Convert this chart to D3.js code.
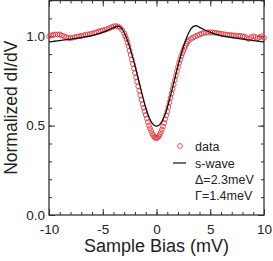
<!doctype html>
<html>
  <head>
    <meta charset="utf-8">
    <title>dI/dV</title>
    <script src="https://d3js.org/d3.v7.min.js"></script>
    <style type="text/css">
      body { margin: 0; background-color: #ffffff; }
      text { font-family: "Liberation Sans", Arial, sans-serif; fill: #222; }
    </style>
  </head>
  <body>
    <script>
      var biasData = [
        -10, -9.8, -9.6, -9.4, -9.2, -9, -8.8, -8.6, -8.4, -8.2, -8, -7.8, -7.6, -7.4, -7.2, -7,
        -6.8, -6.6, -6.4, -6.2, -6, -5.8, -5.6, -5.4, -5.2, -5, -4.8, -4.6, -4.4, -4.2, -4,
        -3.8, -3.6, -3.4, -3.2,
        -3, -2.9, -2.8, -2.7, -2.6, -2.5, -2.4, -2.3, -2.2, -2.1, -2, -1.9, -1.8, -1.7, -1.6,
        -1.5, -1.4, -1.3, -1.2, -1.1, -1, -0.9, -0.8, -0.7, -0.6, -0.5, -0.4, -0.3, -0.2, -0.1,
        0, 0.1, 0.2, 0.3, 0.4, 0.5, 0.6, 0.7, 0.8, 0.9, 1, 1.1, 1.2, 1.3, 1.4, 1.5, 1.6, 1.7,
        1.8, 1.9, 2, 2.1, 2.2, 2.3, 2.4, 2.5, 2.6, 2.7, 2.8, 2.9, 3,
        3.2, 3.4, 3.6, 3.8, 4, 4.2, 4.4, 4.6, 4.8, 5, 5.2, 5.4, 5.6, 5.8, 6, 6.2, 6.4, 6.6,
        6.8, 7, 7.2, 7.4, 7.6, 7.8, 8, 8.2, 8.4, 8.6, 8.8, 9, 9.2, 9.4, 9.6, 9.8, 10
      ];
      var didvData = [
        1.0, 1.005, 1.008, 1.01, 1.01, 1.01, 1.005, 1.0, 0.995, 0.99, 0.99, 0.992, 0.995, 0.998, 1.0, 1.002,
        1.005, 1.008, 1.01, 1.012, 1.015, 1.018, 1.022, 1.026, 1.03, 1.033, 1.036, 1.04, 1.045, 1.05, 1.055,
        1.057, 1.055, 1.048, 1.035,
        1.015, 1.0, 0.985, 0.965, 0.945, 0.92, 0.895, 0.87, 0.845, 0.82, 0.795, 0.77, 0.745, 0.72, 0.695,
        0.67, 0.645, 0.62, 0.6, 0.58, 0.56, 0.54, 0.52, 0.5, 0.485, 0.47, 0.455, 0.445, 0.437, 0.432,
        0.43, 0.433, 0.44, 0.45, 0.463, 0.478, 0.495, 0.515, 0.535, 0.558, 0.58, 0.605, 0.63, 0.655, 0.68, 0.705, 0.73, 0.755,
        0.78, 0.805, 0.828, 0.85, 0.87, 0.888, 0.905, 0.92, 0.935, 0.948, 0.96, 0.97, 0.978,
        0.986, 0.993, 0.999, 1.005, 1.01, 1.015, 1.018, 1.02, 1.022, 1.022, 1.021, 1.02, 1.018, 1.016, 1.014, 1.012, 1.01, 1.008,
        1.007, 1.006, 1.005, 1.004, 1.003, 1.002, 1.0, 0.998, 0.99, 0.985, 0.995, 1.0, 0.995, 0.99, 0.995, 1.0, 0.99
      ];

      // s-wave Dynes fit
      var biasFit = [
        -10, -9.5, -9, -8.5, -8, -7.5, -7, -6.5, -6, -5.5, -5, -4.5, -4, -3.75, -3.5, -3.25,
        -3, -2.75, -2.5, -2.25, -2, -1.75, -1.5, -1.25, -1, -0.75, -0.5, -0.25, 0,
        0.25, 0.5, 0.75, 1, 1.25, 1.5, 1.75, 2, 2.25, 2.5, 2.75, 3, 3.25, 3.5, 3.75,
        4, 4.5, 5, 5.5, 6, 6.5, 7, 7.5, 8, 8.5, 9, 9.5, 10
      ];
      var didvFit = [
        0.968, 0.972, 0.976, 0.98, 0.984, 0.988, 0.993, 0.998, 1.004, 1.012, 1.022, 1.034, 1.048, 1.055, 1.055, 1.045,
        1.02, 0.985, 0.94, 0.89, 0.835, 0.775, 0.715, 0.655, 0.6, 0.555, 0.522, 0.503, 0.497,
        0.503, 0.522, 0.555, 0.6, 0.655, 0.715, 0.775, 0.835, 0.89, 0.94, 0.985, 1.02, 1.045, 1.057, 1.058,
        1.05, 1.035, 1.022, 1.012, 1.004, 0.998, 0.993, 0.988, 0.984, 0.98, 0.976, 0.972, 0.968
      ];

      var xTicks = [-10, -5, 0, 5, 10];
      var yTicks = [0.0, 0.5, 1.0];
      var legendLines = ["\u0394=2.3meV", "\u0393=1.4meV"];

      var w = 273, h = 261;
      var margin = { top: 0.5, right: 9, bottom: 46, left: 49 };

      var svg = d3.select("body").append("svg")
        .attr("width", w)
        .attr("height", h);

      var x = d3.scaleLinear().domain([-10, 10]).range([margin.left, w - margin.right]);
      var y = d3.scaleLinear().domain([0, 1.2]).range([h - margin.bottom, margin.top]);

      var minorX = d3.range(-10, 10.01, 1);
      var minorY = d3.range(0, 1.201, 0.1);

      function styleAxis(g) {
        g.select(".domain").remove();
        g.selectAll("line").attr("stroke", "#333").attr("stroke-width", 1);
        g.selectAll("text").style("font-size", "13.5px").attr("fill", "#222");
      }

      // minor ticks (inside)
      svg.append("g").attr("transform", "translate(0," + y(0) + ")")
        .call(d3.axisBottom(x).tickValues(minorX).tickSize(-3).tickFormat(""))
        .call(styleAxis);
      svg.append("g").attr("transform", "translate(0," + y(1.2) + ")")
        .call(d3.axisTop(x).tickValues(minorX).tickSize(-3).tickFormat(""))
        .call(styleAxis);
      svg.append("g").attr("transform", "translate(" + x(-10) + ",0)")
        .call(d3.axisLeft(y).tickValues(minorY).tickSize(-3).tickFormat(""))
        .call(styleAxis);
      svg.append("g").attr("transform", "translate(" + x(10) + ",0)")
        .call(d3.axisRight(y).tickValues(minorY).tickSize(-3).tickFormat(""))
        .call(styleAxis);

      // major ticks + labels
      svg.append("g").attr("transform", "translate(0," + y(0) + ")")
        .call(d3.axisBottom(x).tickValues(xTicks).tickSize(-6).tickPadding(9).tickFormat(d3.format("d")))
        .call(styleAxis)
        .call(function (g) { g.selectAll("text").text(function (d) { return d < 0 ? "-" + Math.abs(d) : d; }); });
      svg.append("g").attr("transform", "translate(0," + y(1.2) + ")")
        .call(d3.axisTop(x).tickValues(xTicks).tickSize(-6).tickFormat(""))
        .call(styleAxis);
      svg.append("g").attr("transform", "translate(" + x(-10) + ",0)")
        .call(d3.axisLeft(y).tickValues(yTicks).tickSize(-6).tickPadding(4).tickFormat(d3.format(".1f")))
        .call(styleAxis);
      svg.append("g").attr("transform", "translate(" + x(10) + ",0)")
        .call(d3.axisRight(y).tickValues(yTicks).tickSize(-6).tickFormat(""))
        .call(styleAxis);

      // frame
      svg.append("rect")
        .attr("x", x(-10)).attr("y", y(1.2))
        .attr("width", x(10) - x(-10)).attr("height", y(0) - y(1.2))
        .attr("fill", "none").attr("stroke", "#333").attr("stroke-width", 1.3);

      // data circles
      svg.append("g").selectAll("circle")
        .data(biasData)
        .enter().append("circle")
        .attr("cx", function (d) { return x(d); })
        .attr("cy", function (d, i) { return y(didvData[i]); })
        .attr("r", 2.4)
        .attr("fill", "none")
        .attr("stroke", "#e8393f")
        .attr("stroke-width", 0.9);

      // fit line
      var line = d3.line()
        .x(function (d) { return x(d); })
        .y(function (d, i) { return y(didvFit[i]); })
        .curve(d3.curveCatmullRom);
      svg.append("path")
        .attr("d", line(biasFit))
        .attr("fill", "none")
        .attr("stroke", "#111")
        .attr("stroke-width", 1.3);

      // legend
      var lg = svg.append("g").style("font-size", "12.5px");
      lg.append("circle").attr("cx", 180).attr("cy", 146).attr("r", 2.4)
        .attr("fill", "none").attr("stroke", "#e8393f").attr("stroke-width", 0.9);
      lg.append("text").attr("x", 195).attr("y", 150.5).text("data");
      lg.append("line").attr("x1", 173).attr("x2", 186).attr("y1", 163).attr("y2", 163)
        .attr("stroke", "#111").attr("stroke-width", 1.2);
      lg.append("text").attr("x", 195).attr("y", 167.5).text("s-wave");
      lg.selectAll("text.p").data(legendLines).enter().append("text")
        .attr("class", "p")
        .attr("x", 195)
        .attr("y", function (d, i) { return 184 + i * 16; })
        .text(function (d) { return d; });

      // axis titles
      svg.append("text")
        .attr("x", (x(-10) + x(10)) / 2).attr("y", 251.5)
        .attr("text-anchor", "middle").style("font-size", "18px")
        .text("Sample Bias (mV)");
      svg.append("text")
        .attr("transform", "translate(16.5," + y(0.6) + ") rotate(-90)")
        .attr("text-anchor", "middle").style("font-size", "17.5px")
        .text("Normalized dI/dV");
    </script>
  </body>
</html>
